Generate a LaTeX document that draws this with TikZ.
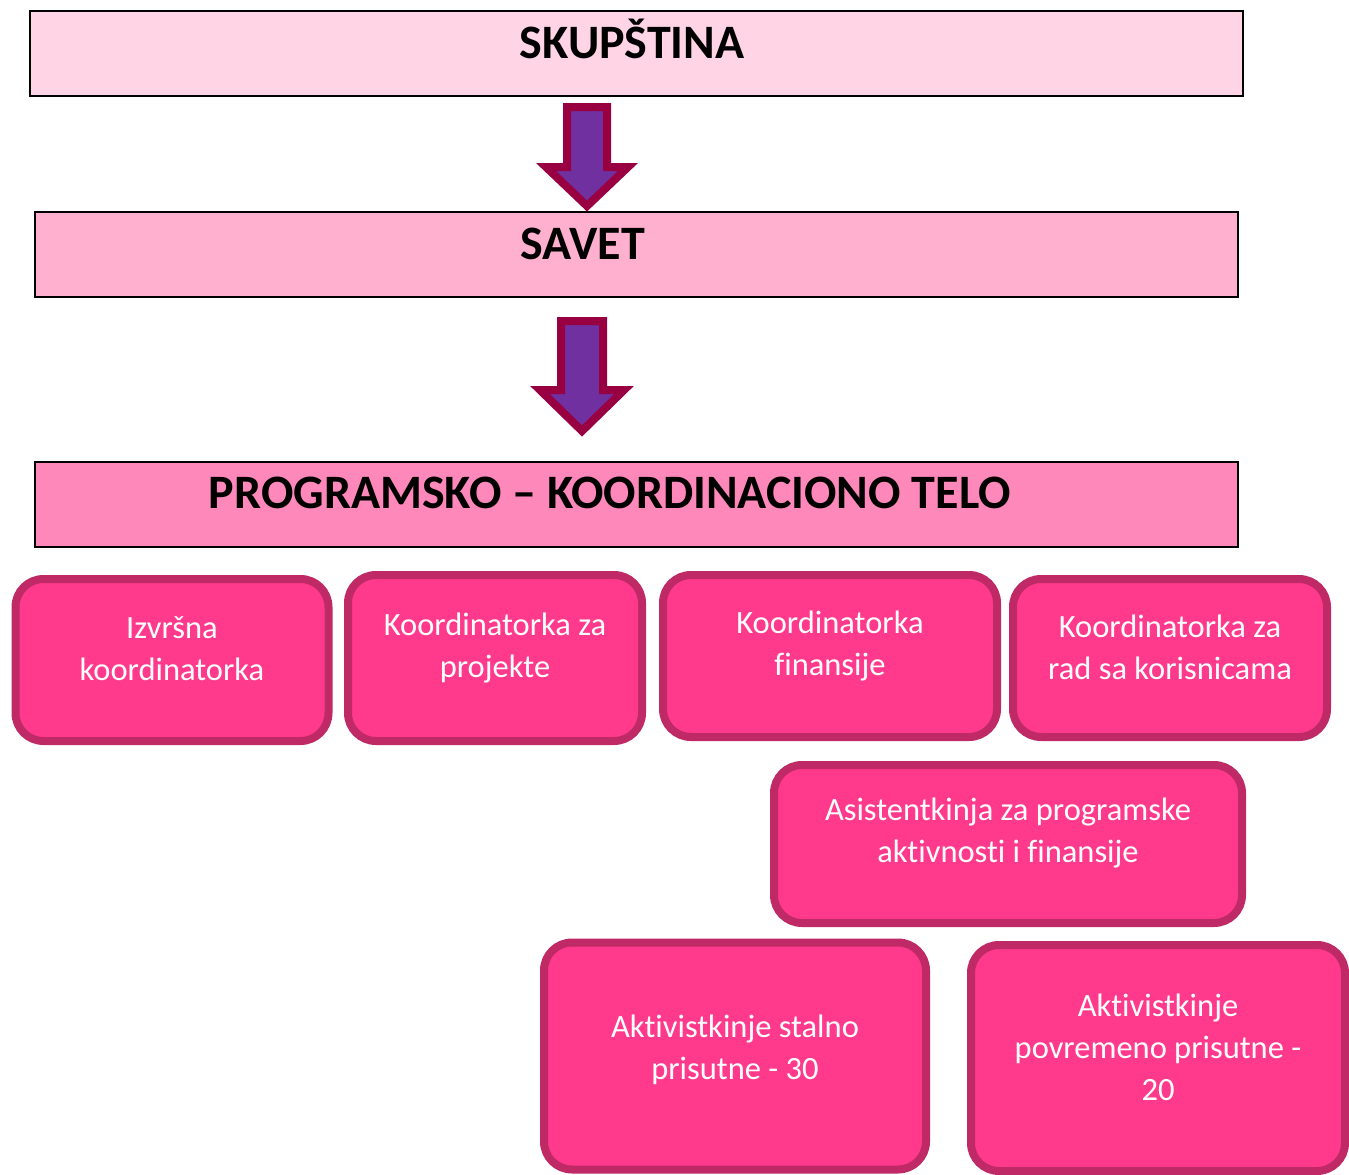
\documentclass[tikz,border=0pt]{standalone}
\usepackage{fontspec}
\setmainfont[Ligatures=NoCommon]{Carlito}
\usepackage{tikz}

\definecolor{skupfill}{HTML}{FFD5E5}
\definecolor{savetfill}{HTML}{FFB0CF}
\definecolor{progfill}{HTML}{FF88BB}
\definecolor{unitfill}{HTML}{FF3A8C}
\definecolor{unitline}{HTML}{BF2966}
\definecolor{arrowfill}{HTML}{7030A0}
\definecolor{arrowline}{HTML}{990042}

\begin{document}
\begin{tikzpicture}[x=1pt, y=-1pt,
  levelbox/.style={draw=black, line width=2pt},
  leveltext/.style={anchor=base, font=\fontsize{48}{52}\selectfont\bfseries},
  unitbox/.style={draw=unitline, fill=unitfill, line width=8pt, rounded corners=28pt},
  unittext/.style={text=white, align=center, font=\fontsize{32.5}{42}\selectfont}
]
  \newcommand{\OrgArrow}[6]{% center x, top, head start, tip, shaft half width, head half width
    \filldraw[fill=arrowfill, draw=arrowline, line width=8pt, line join=miter]
      (#1-#5,#2) -- (#1+#5,#2) -- (#1+#5,#3) -- (#1+#6,#3) -- (#1,#4)
      -- (#1-#6,#3) -- (#1-#5,#3) -- cycle;%
  }
  \useasboundingbox (0,0) rectangle (1349,1175);

  % three levels
  \filldraw[levelbox, fill=skupfill] (30,11) rectangle (1243,96);
  \node[leveltext] (skup) at (632,58) {SKUPŠTINA};
  \filldraw[levelbox, fill=savetfill] (35,212) rectangle (1238,297);
  \node[leveltext] (savet) at (583,259) {SAVET};
  \filldraw[levelbox, fill=progfill] (35,462) rectangle (1238,547);
  \node[leveltext] (prog) at (610,508) {PROGRAMSKO -- KOORDINACIONO TELO};

  \OrgArrow{587}{107}{167}{206}{20}{41}
  \OrgArrow{582}{321}{390}{431}{21}{42}

  % units
  \node[unitbox, minimum width=313pt, minimum height=162pt] (izv) at (172,660) {};
  \node[unittext] (izv-t) at ([yshift=11pt]izv.center) {Izvršna\\koordinatorka};
  \node[unitbox, minimum width=294pt, minimum height=166pt] (proj) at (495,658) {};
  \node[unittext] (proj-t) at ([yshift=10pt]proj.center) {Koordinatorka za\\projekte};
  \node[unitbox, minimum width=334pt, minimum height=162pt] (fin) at (830,656) {};
  \node[unittext] (fin-t) at ([yshift=10pt]fin.center) {Koordinatorka\\finansije};
  \node[unitbox, minimum width=314pt, minimum height=158pt] (kor) at (1170,658) {};
  \node[unittext] (kor-t) at ([yshift=11pt]kor.center) {Koordinatorka za\\rad sa korisnicama};
  \node[unitbox, minimum width=468pt, minimum height=158pt] (asis) at (1008,844) {};
  \node[unittext] (asis-t) at ([yshift=11pt]asis.center) {Asistentkinja za programske\\aktivnosti i finansije};
  \node[unitbox, minimum width=382pt, minimum height=227pt] (stal) at (735,1056) {};
  \node[unittext] (stal-t) at ([yshift=6pt]stal.center) {Aktivistkinje stalno\\prisutne - 30};
  \node[unitbox, minimum width=374pt, minimum height=226pt] (povr) at (1158,1058) {};
  \node[unittext] (povr-t) at ([yshift=11pt]povr.center) {Aktivistkinje\\povremeno prisutne -\\20};
\end{tikzpicture}
\end{document}
